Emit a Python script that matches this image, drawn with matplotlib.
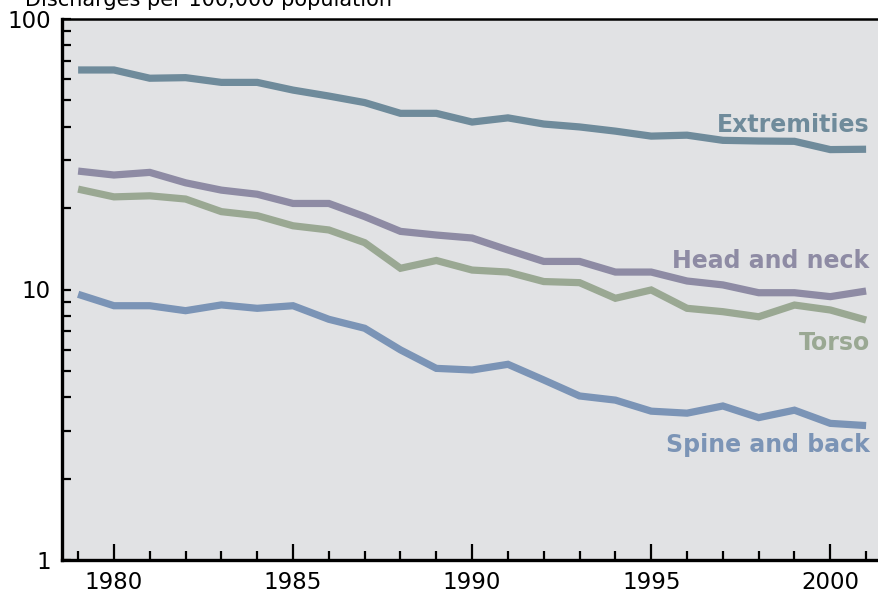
import matplotlib

matplotlib.use("Agg")
import matplotlib.pyplot as plt
from matplotlib.ticker import FixedLocator, NullFormatter

years = list(range(1979, 2002))

# rates per 100,000
extremities = [64.8, 64.8, 60.4, 60.7, 58.3, 58.3, 54.6, 51.9, 49.1, 44.8, 44.8, 41.6,
               43.1, 40.9, 39.9, 38.5, 36.9, 37.2, 35.6, 35.4, 35.3, 32.9, 33.0]
head_neck = [27.4, 26.5, 27.1, 24.8, 23.3, 22.5, 20.8, 20.8, 18.6, 16.4, 15.9, 15.5,
             14.0, 12.7, 12.7, 11.6, 11.6, 10.75, 10.4, 9.73, 9.73, 9.41, 9.87]
torso = [23.5, 22.0, 22.2, 21.6, 19.4, 18.75, 17.2, 16.6, 14.9, 11.98, 12.8, 11.8,
         11.6, 10.7, 10.6, 9.28, 9.96, 8.52, 8.28, 7.93, 8.76, 8.40, 7.71]
spine_back = [9.6, 8.71, 8.71, 8.35, 8.77, 8.52, 8.71, 7.76, 7.19, 5.98, 5.11, 5.04,
              5.29, 4.63, 4.04, 3.90, 3.55, 3.49, 3.71, 3.36, 3.58, 3.20, 3.14]

series = [
    ("Extremities", extremities, "#6f8b9b", 38.2),
    ("Head and neck", head_neck, "#8e8ba4", 12.0),
    ("Torso", torso, "#9aa893", 5.98),
    ("Spine and back", spine_back, "#7b94b6", 2.51),
]

y_major = [1, 10, 100]
y_labels = ["1", "10", "100"]
x_major = [1980, 1985, 1990, 1995, 2000]

W, H = 879, 593
fig = plt.figure(figsize=(W / 100, H / 100), dpi=100)
ax = fig.add_axes([62 / W, 33 / H, 1 - 62 / W, 541 / H])
ax.set_facecolor("#e1e2e4")

for name, vals, col, label_y in series:
    ax.plot(years, vals, color=col, lw=5.2, solid_capstyle="butt", solid_joinstyle="miter")
    ax.text(2001.1, label_y, name, color=col, fontsize=17, fontweight="bold",
            ha="right", va="baseline")

ax.set_yscale("log")
ax.set_ylim(1, 100)
ax.set_xlim(1978.55, 2001.36)

ax.yaxis.set_major_locator(FixedLocator(y_major))
ax.set_yticklabels(y_labels)
ax.yaxis.set_minor_locator(FixedLocator([m * d for d in (1, 10) for m in range(2, 10)]))
ax.yaxis.set_minor_formatter(NullFormatter())
ax.xaxis.set_major_locator(FixedLocator(x_major))
ax.xaxis.set_minor_locator(FixedLocator(years))

ax.tick_params(axis="both", which="both", direction="in", width=1.6, colors="black",
               labelsize=16.5)
ax.tick_params(axis="x", which="major", length=11.5, pad=8)
ax.tick_params(axis="x", which="minor", length=6.5)
ax.tick_params(axis="y", which="both", length=6.5, pad=8)

ax.spines["right"].set_visible(False)
ax.spines["left"].set_linewidth(2.4)
ax.spines["bottom"].set_linewidth(2.4)
ax.spines["top"].set_linewidth(1.8)

# title sits mostly above the canvas in the reference, only its foot shows
fig.text(25 / W, 1 - 6 / H, "Discharges per 100,000 population", fontsize=15,
         ha="left", va="baseline")

fig.savefig("out.png", dpi=100)
